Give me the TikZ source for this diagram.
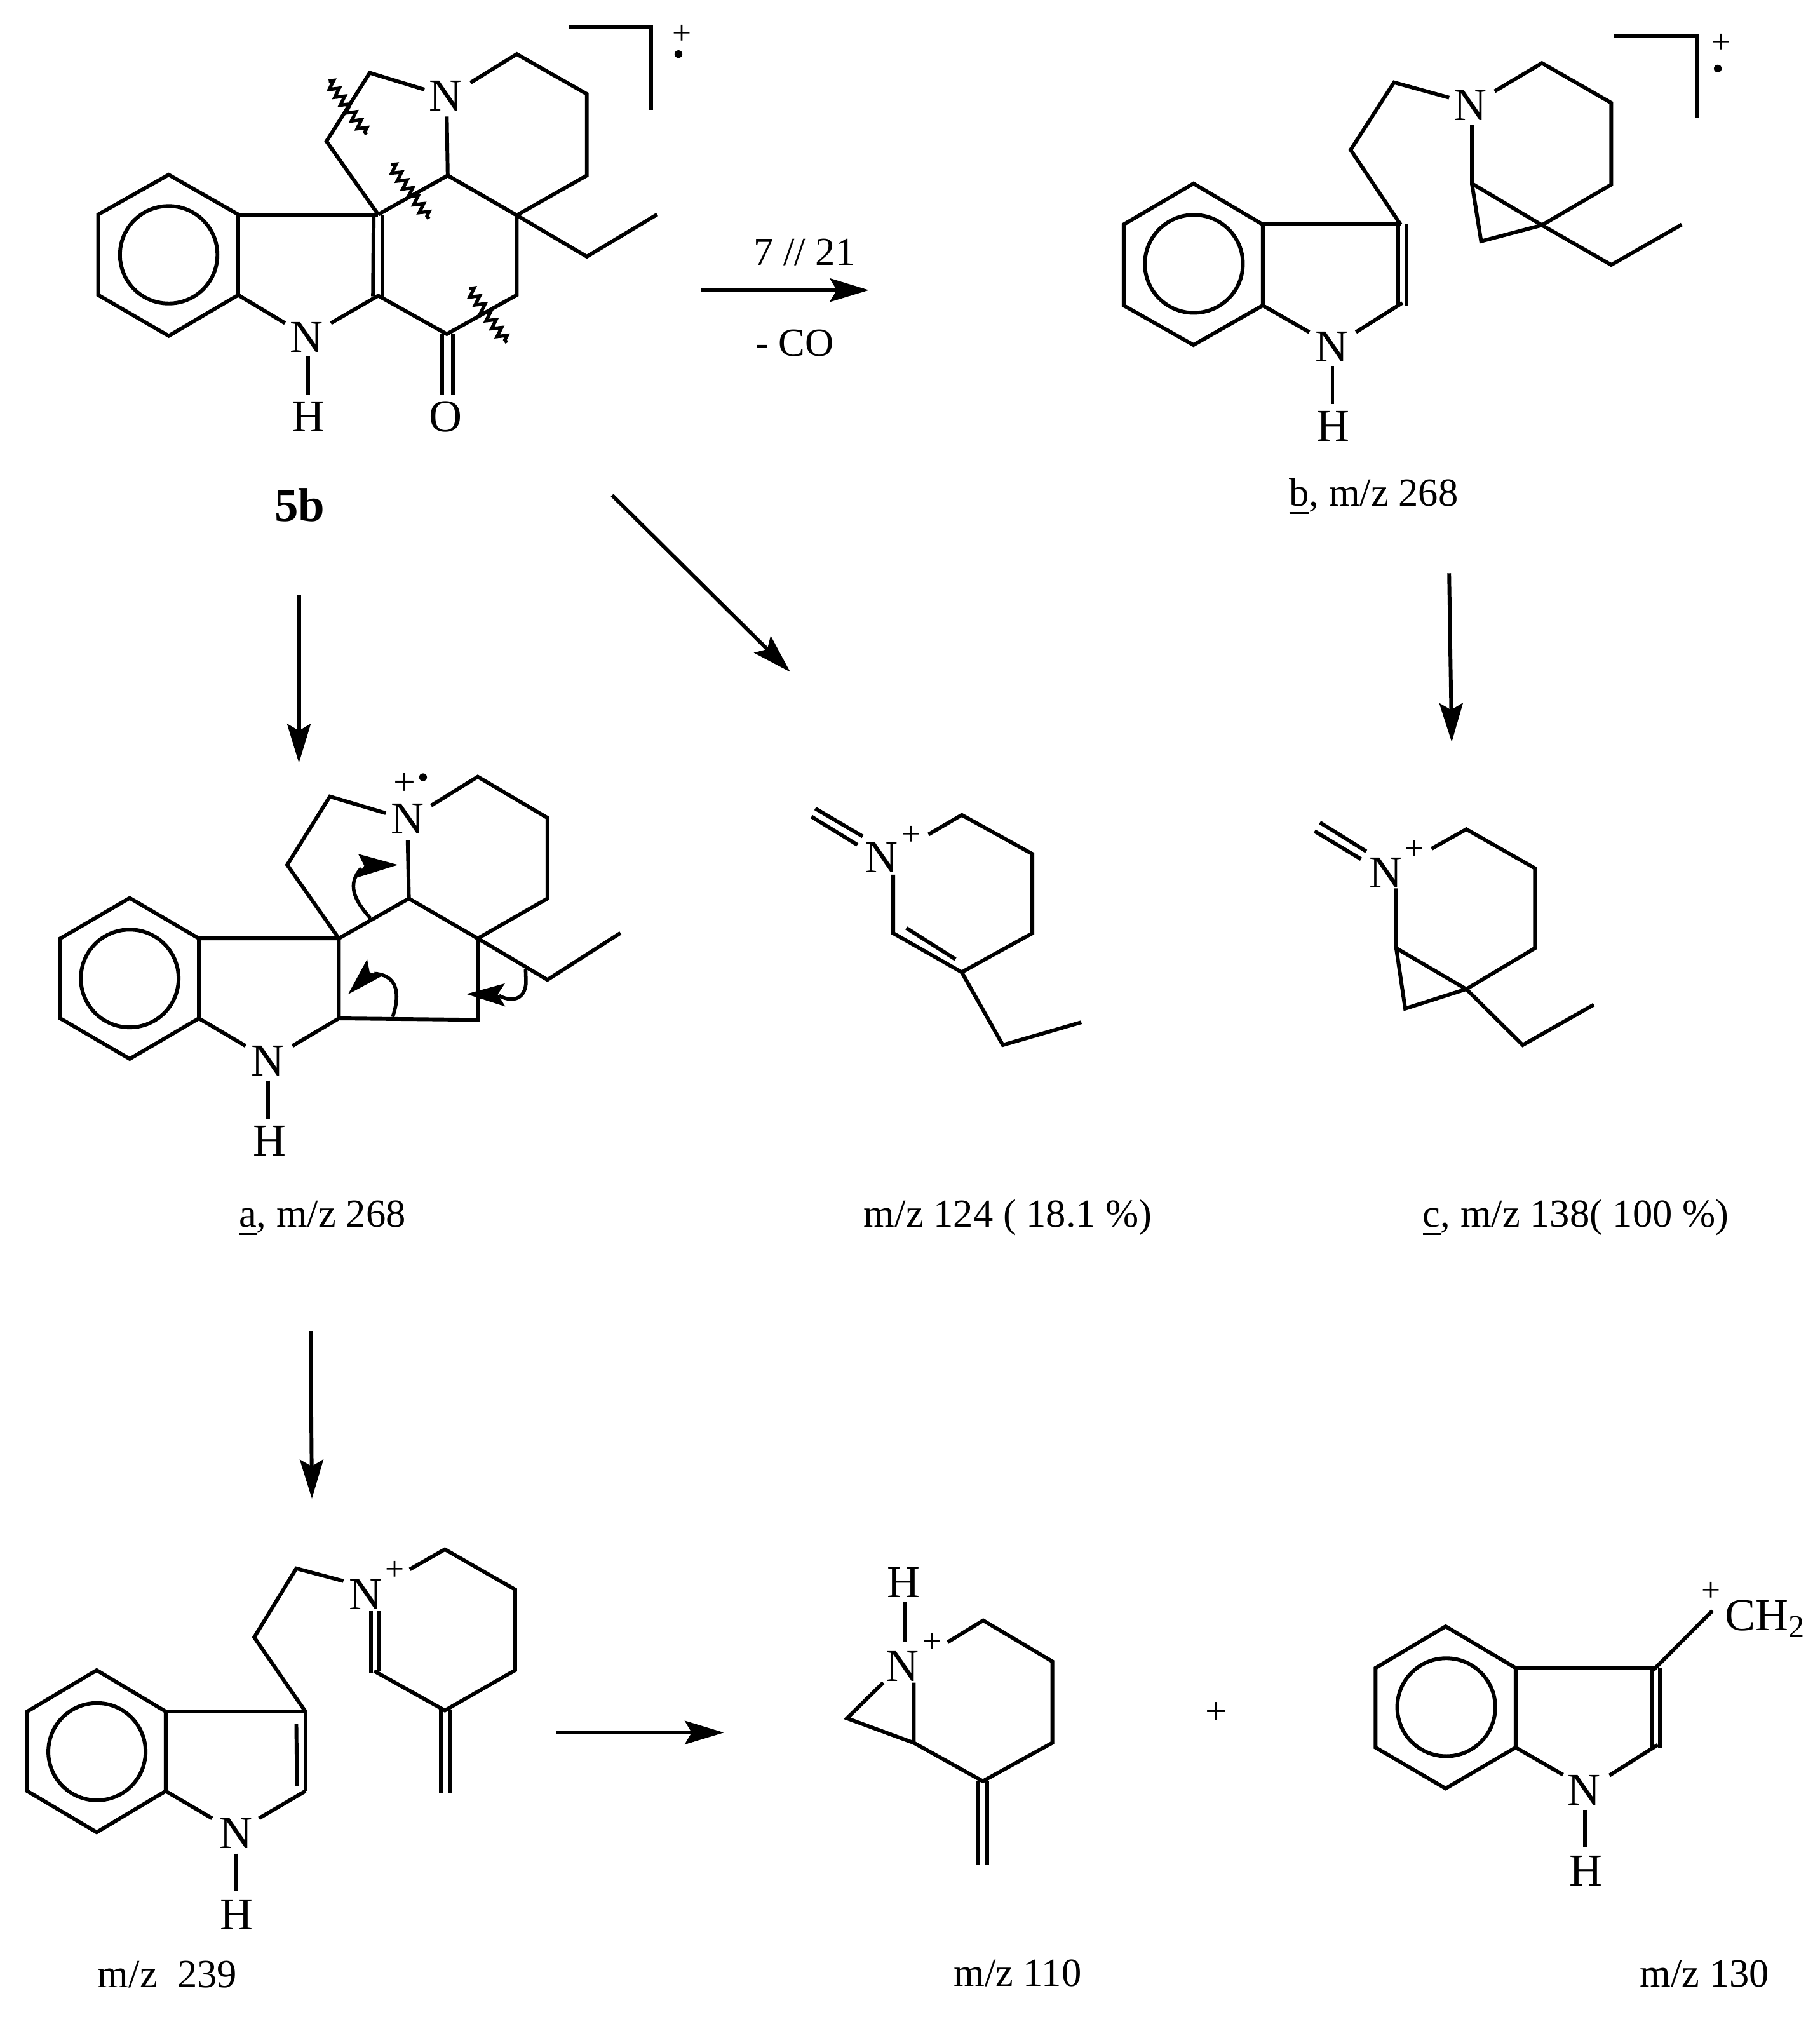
\documentclass[tikz,border=0pt]{standalone}
\usepackage{fontspec}
\setmainfont{Liberation Serif}
\usetikzlibrary{arrows.meta,decorations.pathmorphing}
\tikzset{
  bond/.style={line width=0.029cm,line cap=butt,line join=miter},
  atom/.style={inner sep=0pt,font=\fontsize{10}{12}\selectfont},
  lab/.style={inner sep=0pt,anchor=base,font=\fontsize{8.7}{10}\selectfont},
  plussign/.style={inner sep=0pt,font=\fontsize{7.4}{9}\selectfont},
  rxn/.style={line width=0.029cm,-{Stealth[length=0.30cm,width=0.18cm,inset=0.052cm]}},
  wig/.style={line width=0.026cm,decorate,decoration={zigzag,segment length=0.074cm,amplitude=0.034cm}},
  head/.style={fill=black,draw=none},
  curly/.style={line width=0.027cm}
}
\begin{document}
\begin{tikzpicture}[x=0.01cm,y=-0.01cm]
\useasboundingbox (0,0) rectangle (1400,1568);
\fill[white] (0,0) rectangle (1400,1568);

% ---------- 5b ----------
\draw[bond] (129.8,134.4)--(183.3,165)--(183.3,227)--(129.8,258.4)--(75.6,227)--(75.6,165)--cycle;
\draw[bond] (129.8,196) circle [radius=37.5];
\draw[bond] (183.3,165)--(291,165);
\draw[bond] (287.5,165)--(287,228);
\draw[bond] (294.5,165)--(294.5,228);
\draw[bond] (183.3,227)--(219.3,248.6);
\draw[bond] (254.6,248.6)--(291,227.5)--(343.8,257)--(397.6,227)--(397.6,165.6)--(344.5,135)--(291,165);
\draw[bond] (344.5,135)--(343.8,89.6);
\draw[bond] (326.6,68.9)--(284.5,56)--(251.2,108.7)--(291,165);
\draw[bond] (362,63.6)--(397.6,41.6)--(451.5,72.3)--(451.5,135)--(397.6,165.6)--(451.5,197.4)--(505.6,165);
\draw[bond] (237,274)--(237,303.4);
\draw[bond] (340.4,257)--(340.4,303.4);
\draw[bond] (348.6,257)--(348.6,303.4);
\draw[bond] (437.4,20.4)--(500.8,20.4)--(500.8,84.3);
\draw[wig] (252.9,62.3)--(282,103.4);
\draw[wig] (301,126.7)--(330,168.3);
\draw[wig] (361,222)--(390,263.7);
\node[atom] (n5bN1) at (235.8,259.7) {N};
\node[atom] (n5bH) at (237.2,320.6) {H};
\node[atom] (n5bO) at (343,320.6) {O};
\node[atom] (n5bN2) at (343,74) {N};
\node[plussign] (n5bplus) at (524.5,26.5) {+};
\fill (522,41.6) circle [radius=3];
\node[inner sep=0pt,anchor=base,font=\fontsize{10.4}{12}\selectfont\bfseries] (l5b) at (230.6,401) {5b};

% ---------- b ----------
\draw[bond] (918.3,141.2)--(971.6,172.7)--(971.6,235)--(918.3,265.4)--(864.6,235)--(864.6,172.7)--cycle;
\draw[bond] (918.6,203) circle [radius=37.7];
\draw[bond] (971.6,172.7)--(1077.6,172.7);
\draw[bond] (1075.7,172.7)--(1075.7,235.5);
\draw[bond] (1082,172.7)--(1082,235.5);
\draw[bond] (971.6,235)--(1007.4,255.5);
\draw[bond] (1043.3,255.5)--(1079,233);
\draw[bond] (1077.6,172.7)--(1039.2,115.3)--(1072.6,63.4)--(1115,75.1);
\draw[bond] (1150,70.2)--(1186.4,48.5)--(1239.7,79.1)--(1239.7,142)--(1186.4,173.2);
\draw[bond] (1132.5,95.8)--(1132.5,141.2)--(1186.4,173.2)--(1239.7,203.8)--(1294,172.7);
\draw[bond] (1132.5,141.2)--(1139.6,185.6)--(1186.4,173.2);
\draw[bond] (1025.2,281.6)--(1025.2,310.8);
\draw[bond] (1241.9,27.8)--(1305.5,27.8)--(1305.5,90.9);
\node[atom] (nbN1) at (1024.6,266.7) {N};
\node[atom] (nbH) at (1025.8,327.8) {H};
\node[atom] (nbN2) at (1131.2,80.9) {N};
\node[plussign] (nbplus) at (1324.5,33.5) {+};
\fill (1321.7,52.7) circle [radius=3];
\node[lab] (lb) at (1057,389.4) {\underline{b}, m/z 268};

% ---------- a ----------
\draw[bond] (99.8,690.9)--(153,722)--(153,783.5)--(99.8,814.7)--(46.4,783.5)--(46.4,722)--cycle;
\draw[bond] (99.8,752.8) circle [radius=37.6];
\draw[bond] (153,722)--(260.7,722)--(260.7,783.5)--(367.6,784.6)--(367.6,722)--(314.6,691.3)--(260.7,722);
\draw[bond] (153,783.5)--(189,804.7);
\draw[bond] (225,804.7)--(260.7,783.5);
\draw[bond] (314.6,691.3)--(313.7,646.3);
\draw[bond] (296.8,625.6)--(253.8,612.8)--(221,665.4)--(260.7,722);
\draw[bond] (331.7,619.8)--(367.6,597.6)--(421.2,629.2)--(421.2,691.3)--(367.6,722)--(421.2,753.8)--(477.4,717.8);
\draw[bond] (206.4,831.2)--(206.4,860.9);
\node[atom] (naN1) at (206,816.4) {N};
\node[atom] (naH) at (207.6,877.8) {H};
\node[atom] (naN2) at (313.7,630.2) {N};
\node[plussign,font=\fontsize{8.6}{10}\selectfont] (naplus) at (311.5,603.3) {+};
\fill (325.5,598) circle [radius=3];
\draw[curly] (285,706.5) .. controls (272,692) and (267,680) .. (278,668);
\fill[head] (306.2,665.4)--(275.6,657)--(280.3,666)--(274,675.4)--cycle;
\draw[curly] (302.1,782.4) .. controls (309,762) and (304,750) .. (288,749);
\fill[head] (282.5,738)--(284.4,748)--(293.7,751)--(267.8,765)--cycle;
\draw[curly] (404.4,745.8)--(404.7,755) .. controls (404.7,768) and (395,772) .. (384,766);
\fill[head] (358.9,764.8)--(388.5,756.6)--(383,765)--(388.8,774.4)--cycle;
\node[lab] (la) at (248,944) {\underline{a}, m/z 268};

% ---------- m/z 124 ----------
\draw[bond] (627.3,622)--(663.8,643.5);
\draw[bond] (624.4,628.3)--(659.7,650);
\draw[bond] (714.4,642)--(740,627)--(794.3,657)--(794.3,718)--(740,748)--(687.3,718)--(687.3,673);
\draw[bond] (697.4,714)--(735.1,738);
\draw[bond] (740,748)--(771.6,804)--(832,786.5);
\node[atom] (n124N) at (678.3,660) {N};
\node[plussign] (n124plus) at (701.4,643) {+};
\node[lab] (l124) at (775.6,944) {m/z 124 ( 18.1 \%)};

% ---------- c ----------
\draw[bond] (1015.6,632.8)--(1051.2,655);
\draw[bond] (1011.5,639.5)--(1047.2,661);
\draw[bond] (1101.5,653)--(1128.2,638)--(1181,668)--(1181,729.5)--(1128.2,761)--(1171.6,804)--(1226.3,773);
\draw[bond] (1074.3,683.5)--(1074.3,729.5)--(1128.2,761);
\draw[bond] (1074.3,729.5)--(1081.2,776)--(1128.2,761);
\node[atom] (ncN) at (1066.2,671.5) {N};
\node[plussign] (ncplus) at (1088.5,654) {+};
\node[lab] (lc) at (1212.5,944) {\underline{c}, m/z 138( 100 \%)};

% ---------- m/z 239 ----------
\draw[bond] (74.4,1285)--(127.5,1316.8)--(127.5,1378)--(74.4,1409.7)--(21,1378)--(21,1316.8)--cycle;
\draw[bond] (74.6,1347.7) circle [radius=37.4];
\draw[bond] (127.5,1316.8)--(235,1316.8)--(235,1378);
\draw[bond] (228,1326.3)--(228.5,1374.3);
\draw[bond] (127.5,1378)--(163.2,1399);
\draw[bond] (199.3,1399)--(235,1378);
\draw[bond] (235,1316.8)--(195.6,1259.7)--(228,1206.7)--(264.2,1216.4);
\draw[bond] (315.3,1207.4)--(342.3,1192)--(396.4,1223)--(396.4,1285)--(342.3,1316)--(287.9,1285.6);
\draw[bond] (285.4,1239.4)--(285.4,1286.8);
\draw[bond] (291.6,1239.4)--(291.6,1285.6);
\draw[bond] (339,1316)--(339,1379.3);
\draw[bond] (346,1316)--(346,1379.3);
\draw[bond] (181.4,1426)--(181.4,1455.3);
\node[atom] (n239N1) at (181.4,1410.4) {N};
\node[atom] (n239H) at (181.9,1473) {H};
\node[atom] (n239N2) at (281.1,1227) {N};
\node[plussign] (n239plus) at (303.6,1208.5) {+};
\node[lab] (l239) at (128.8,1529) {m/z\ \ 239};

% ---------- m/z 110 ----------
\draw[bond] (729.1,1263.5)--(756.5,1246.7)--(809.7,1278.3)--(809.7,1340.9)--(756.2,1370.4)--(703.1,1340.9)--(703.1,1294.6);
\draw[bond] (679.6,1294.6)--(651.7,1322)--(703.1,1340.9);
\draw[bond] (752.5,1370.4)--(752.5,1434.3);
\draw[bond] (759.4,1370.4)--(759.4,1434.3);
\draw[bond] (695.8,1232.9)--(695.8,1263);
\node[atom] (n110H) at (695.4,1217.7) {H};
\node[atom] (n110N) at (694.1,1282) {N};
\node[plussign] (n110plus) at (717.2,1264) {+};
\node[lab] (l110) at (783,1528) {m/z 110};

\node[plussign,font=\fontsize{8.6}{10}\selectfont] (plusmid) at (936,1318) {+};

% ---------- m/z 130 ----------
\draw[bond] (1112.3,1251.3)--(1166.2,1283.3)--(1166.2,1344.5)--(1112.3,1376)--(1058.4,1344.5)--(1058.4,1283.3)--cycle;
\draw[bond] (1112.8,1313.5) circle [radius=37.7];
\draw[bond] (1166.2,1283.3)--(1274,1283.3);
\draw[bond] (1271.3,1283.3)--(1271.3,1344.5);
\draw[bond] (1277.4,1283.3)--(1277.4,1344.5);
\draw[bond] (1166.2,1344.5)--(1202.6,1365.4);
\draw[bond] (1238.4,1365.9)--(1275.5,1342.5);
\draw[bond] (1272,1285)--(1317.6,1239.2);
\draw[bond] (1219.5,1392.4)--(1219.5,1421.3);
\node[atom] (n130N) at (1218.7,1377.2) {N};
\node[atom] (n130H) at (1220,1439.5) {H};
\node[plussign] (n130plus) at (1316.5,1224.8) {+};
\node[atom,anchor=base west] (n130CH) at (1326.5,1254.3) {CH\textsubscript{2}};
\node[lab] (l130) at (1311.6,1528.4) {m/z 130};

% ---------- reaction arrows ----------
\coordinate (r1a) at (539.7,223.2); \coordinate (r1b) at (668.6,223.2);
\coordinate (r2a) at (230,458); \coordinate (r2b) at (230,587);
\coordinate (r3a) at (471,381); \coordinate (r3b) at (608,517);
\coordinate (r4a) at (1115,441); \coordinate (r4b) at (1117,571);
\coordinate (r5a) at (239,1024); \coordinate (r5b) at (240,1153);
\coordinate (r6a) at (428,1333); \coordinate (r6b) at (557,1333);
\draw[rxn] (r1a)--(r1b);
\draw[rxn] (r2a)--(r2b);
\draw[rxn] (r3a)--(r3b);
\draw[rxn] (r4a)--(r4b);
\draw[rxn] (r5a)--(r5b);
\draw[rxn] (r6a)--(r6b);
\node[lab] (cond1) at (619,204) {7 // 21};
\node[lab] (cond2) at (611.5,273.8) {- CO};
\end{tikzpicture}
\end{document}
